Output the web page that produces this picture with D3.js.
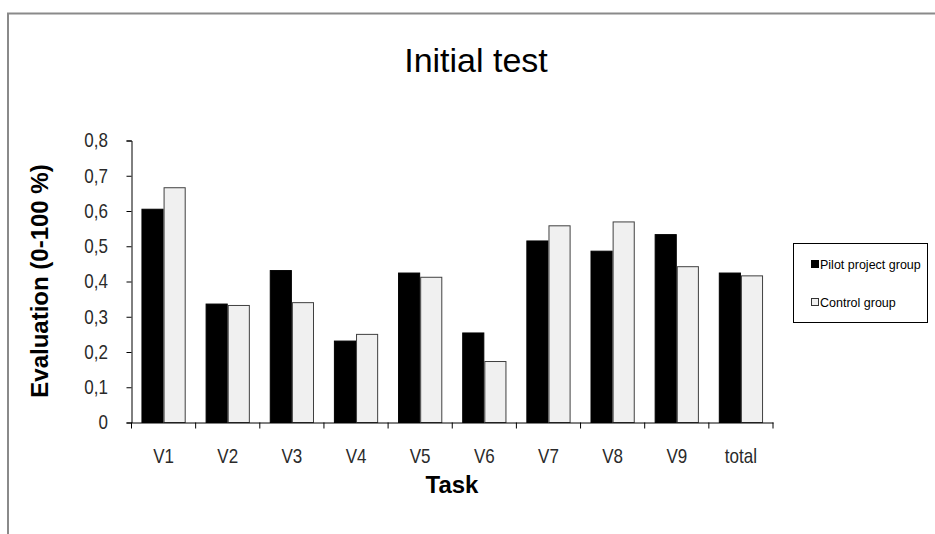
<!DOCTYPE html>
<html>
<head>
<meta charset="utf-8">
<script src="https://cdn.jsdelivr.net/npm/d3@7"></script>
<style>
  html, body { margin: 0; padding: 0; background: #fff; }
  svg { display: block; font-family: "Liberation Sans", Arial, sans-serif; }
</style>
</head>
<body>
<svg id="chart" width="935" height="534"></svg>
<script>
// Tasks on the x axis
const categories = ["V1", "V2", "V3", "V4", "V5", "V6", "V7", "V8", "V9", "total"];
// Series names
const seriesNames = ["Pilot project group", "Control group"];
// Mean evaluation per task (0-1)
const pilotValues   = [0.605, 0.336, 0.431, 0.231, 0.424, 0.254, 0.515, 0.486, 0.533, 0.424];
const controlValues = [0.666, 0.332, 0.340, 0.250, 0.412, 0.173, 0.558, 0.569, 0.442, 0.416];
// Y axis ticks
const yTicks = [0, 0.1, 0.2, 0.3, 0.4, 0.5, 0.6, 0.7, 0.8];

const svg = d3.select("#chart");
const W = 935, H = 534;
const condense = 0.85; // horizontal squeeze of the tick label font

// outer frame (top and left edges visible)
svg.append("path")
  .attr("d", `M8,${H} L8,13.5 L${W},13.5`)
  .attr("fill", "none").attr("stroke", "#8a8a8a").attr("stroke-width", 2);

const plot = { left: 131.5, right: 773, top: 140.5, bottom: 422.5 };

const x = d3.scaleBand().domain(categories).range([plot.left, plot.right]).paddingInner(0).paddingOuter(0);
const y = d3.scaleLinear().domain([0, 0.8]).range([plot.bottom, plot.top]);
const inner = d3.scaleBand().domain(seriesNames).range([0, x.bandwidth()]).paddingInner(0).paddingOuter(0.45);

const fills = ["#000000", "#f0f0f0"];
const strokes = ["#000000", "#404040"];

const rows = categories.map((c, i) => ({ cat: c, vals: [pilotValues[i], controlValues[i]] }));

// bars
const groups = svg.append("g").selectAll("g").data(rows).join("g")
  .attr("transform", d => `translate(${x(d.cat)},0)`);
groups.selectAll("rect").data(d => d.vals.map((v, k) => ({ v, k })))
  .join("rect")
  .attr("x", d => inner(seriesNames[d.k]) + 0.5)
  .attr("y", d => y(d.v))
  .attr("width", inner.bandwidth() - 1)
  .attr("height", d => y(0) - y(d.v))
  .attr("fill", d => fills[d.k])
  .attr("stroke", d => strokes[d.k])
  .attr("stroke-width", 1);

// y axis
const fmt = v => v === 0 ? "0" : d3.format(".1f")(v).replace(".", ",");
const yAxis = svg.append("g").attr("transform", `translate(${plot.left},0)`)
  .call(d3.axisLeft(y).tickValues(yTicks).tickFormat(fmt).tickSize(5).tickPadding(23.5 / condense - 5));
yAxis.select(".domain").attr("stroke", "#000");
yAxis.selectAll(".tick line").attr("stroke", "#000");
yAxis.selectAll("text").attr("font-size", 20).attr("fill", "#2a2a2a")
  .attr("font-family", "'Liberation Sans', Arial, sans-serif")
  .attr("transform", `scale(${condense},1)`);

// x axis
const xAxis = svg.append("g").attr("transform", `translate(0,${plot.bottom})`)
  .call(d3.axisBottom(x).tickSize(0).tickPadding(26));
xAxis.select(".domain").attr("stroke", "#000");
xAxis.selectAll("text").attr("font-size", 20).attr("fill", "#2a2a2a")
  .attr("font-family", "'Liberation Sans', Arial, sans-serif")
  .attr("transform", `scale(${condense},1)`);
// tick marks at band edges
const edges = categories.map(c => x(c)).concat([plot.right]);
svg.append("g").selectAll("line").data(edges).join("line")
  .attr("x1", d => d).attr("x2", d => d)
  .attr("y1", plot.bottom).attr("y2", plot.bottom + 6)
  .attr("stroke", "#000");

// title
svg.append("text").attr("x", 476).attr("y", 72).attr("text-anchor", "middle")
  .attr("font-size", 34).attr("fill", "#000").text("Initial test");

// axis titles
svg.append("text").attr("x", 452).attr("y", 493)
  .attr("text-anchor", "middle").attr("font-size", 24).attr("font-weight", "bold").text("Task");
svg.append("text").attr("transform", `translate(48,281) rotate(-90)`)
  .attr("text-anchor", "middle").attr("font-size", 24).attr("font-weight", "bold")
  .text("Evaluation (0-100 %)");

// legend
const lg = svg.append("g");
lg.append("rect").attr("x", 793.5).attr("y", 243.5).attr("width", 134).attr("height", 79)
  .attr("fill", "#fff").attr("stroke", "#000");
const lgY = [264, 302];
seriesNames.forEach((name, k) => {
  lg.append("rect").attr("x", k === 0 ? 811 : 811.5).attr("y", lgY[k] - (k === 0 ? 4 : 3.5))
    .attr("width", k === 0 ? 8 : 7).attr("height", k === 0 ? 8 : 7)
    .attr("fill", fills[k]).attr("stroke", k === 0 ? "none" : "#333");
  lg.append("text").attr("x", 820).attr("y", lgY[k] + 4.5)
    .attr("font-size", 12.5).attr("fill", "#000").text(name);
});
</script>
</body>
</html>
